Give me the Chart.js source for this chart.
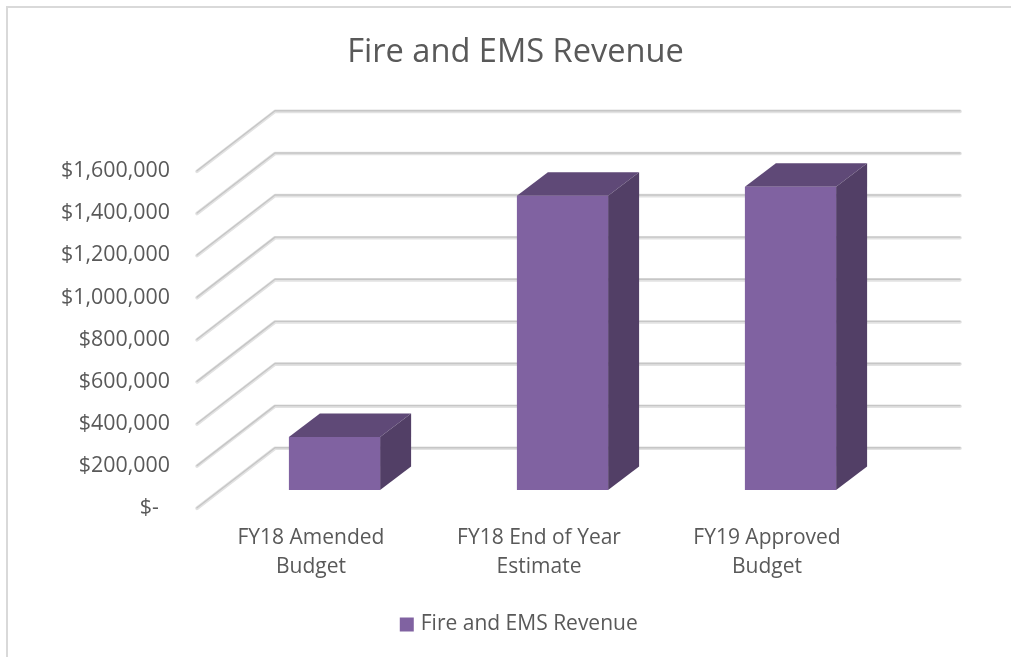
<!DOCTYPE html>
<html>
<head>
<meta charset="utf-8">
<script src="https://cdn.jsdelivr.net/npm/chart.js@4/dist/chart.umd.min.js"></script>
<style>
html,body{margin:0;padding:0;background:#fff;overflow:hidden}
#wrap{position:relative;width:1011px;height:657px;overflow:hidden}
#frame{position:absolute;left:6px;top:6px;width:1030px;height:670px;border:2px solid #d9d9d9;box-sizing:border-box}
canvas{position:absolute;left:0;top:0}
</style>
</head>
<body>
<div id="wrap"><div id="frame"></div><canvas id="c" width="1011" height="657"></canvas></div>
<script>
const categories = [['FY18 Amended','Budget'],['FY18 End of Year','Estimate'],['FY19 Approved','Budget']];
const seriesName = 'Fire and EMS Revenue';
const values = [252000, 1398000, 1440000];
const yMax = 1600000;
const yStep = 200000;

const FONT = '"Open Sans", sans-serif';
const TEXT = '#595959';
const FRONT = '#8062a1', TOP = '#5f4977', SIDE = '#523f66';
// 3D projection offsets, in pixels
const WALL = {dx:78, dy:-60, right:960};
const BAR = {dx:23.5, dy:-18, depthX:31, depthY:-23.5};

const fake3d = {
  id:'fake3d',
  afterLayout(chart){
    chart.legend.left += 5; chart.legend.right += 5;
  },
  beforeDatasetsDraw(chart){
    const {ctx} = chart, y = chart.scales.y, x = chart.scales.x;
    ctx.save();
    ctx.lineJoin='round'; ctx.lineCap='round';
    y.ticks.forEach(t=>{
      const py = y.getPixelForValue(t.value), lx = x.left;
      const path = off=>{
        ctx.beginPath();
        ctx.moveTo(lx, py+off);
        ctx.lineTo(lx+WALL.dx, py+WALL.dy+off);
        ctx.lineTo(WALL.right, py+WALL.dy+off);
      };
      ctx.strokeStyle='#e2e2e2'; ctx.lineWidth=3.6; path(0.3); ctx.stroke();
      ctx.strokeStyle='#c6c6c6'; ctx.lineWidth=1.4; path(-0.3); ctx.stroke();
    });
    ctx.restore();
  },
  beforeDatasetDraw(chart,args){
    const {ctx} = chart;
    const d = BAR;
    ctx.save();
    ctx.translate(d.dx,d.dy);
    args.meta.data.forEach(b=>{
      const l=b.x-b.width/2, r=b.x+b.width/2, t=b.y, bt=b.base;
      ctx.fillStyle=TOP;
      ctx.beginPath();ctx.moveTo(l,t);ctx.lineTo(l+d.depthX,t+d.depthY);ctx.lineTo(r+d.depthX,t+d.depthY);ctx.lineTo(r,t);ctx.closePath();ctx.fill();
      ctx.fillStyle=SIDE;
      ctx.beginPath();ctx.moveTo(r,t);ctx.lineTo(r+d.depthX,t+d.depthY);ctx.lineTo(r+d.depthX,bt+d.depthY);ctx.lineTo(r,bt);ctx.closePath();ctx.fill();
    });
  },
  afterDatasetDraw(chart){ chart.ctx.restore(); }
};

new Chart(document.getElementById('c'),{
  type:'bar',
  data:{labels:categories,datasets:[{label:seriesName,data:values,backgroundColor:FRONT,
    barPercentage:0.4,categoryPercentage:1,clip:false}]},
  plugins:[fake3d],
  options:{
    responsive:false,animation:false,
    layout:{padding:{left:20,right:0,top:33,bottom:12}},
    plugins:{
      tooltip:{enabled:false},
      title:{display:true,text:seriesName,color:TEXT,font:{family:FONT,size:32.6,weight:'normal'},padding:{top:0,bottom:99}},
      legend:{display:true,position:'bottom',labels:{color:TEXT,font:{family:FONT,size:21},boxWidth:7,boxHeight:7,padding:6,
        generateLabels:()=>[{text:seriesName,fillStyle:FRONT,strokeStyle:FRONT,fontColor:TEXT,lineWidth:7,datasetIndex:0,hidden:false}]}}
    },
    scales:{
      x:{type:'category',grid:{display:false},border:{display:false},
        ticks:{color:TEXT,font:{family:FONT,size:21,lineHeight:1.38},padding:8,maxRotation:0,minRotation:0,autoSkip:false},
        afterFit(s){s.height=100;}},
      y:{min:0,max:yMax,grid:{display:false},border:{display:false},
        ticks:{stepSize:yStep,color:TEXT,font:{family:FONT,size:21.4},padding:19,
          callback:v=>v===0?'$-  ':'$'+v.toLocaleString('en-US')},
        afterFit(s){s.width=177;}},
      pad:{position:'right',display:true,grid:{display:false},border:{display:false},
        ticks:{display:false},afterFit(s){s.width=130;}}
    }
  }
});
</script>
</body>
</html>
